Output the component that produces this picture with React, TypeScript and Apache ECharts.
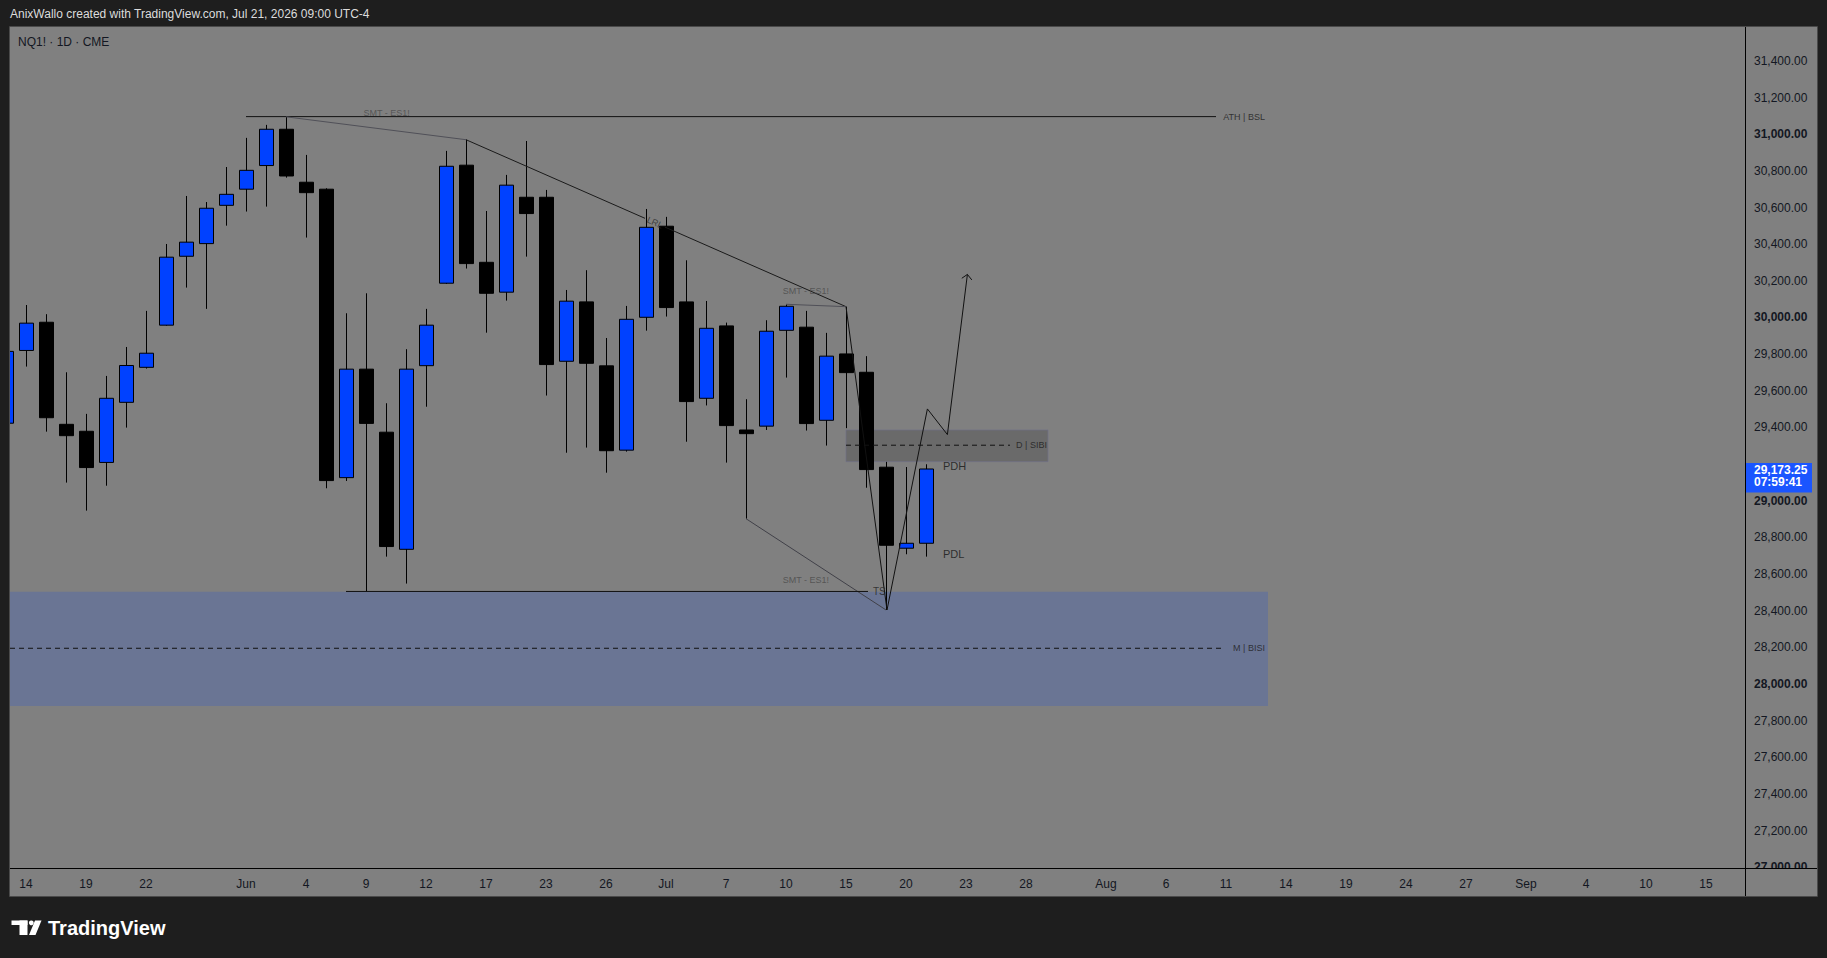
import React, { useEffect, useRef } from 'react';
import * as echarts from 'echarts';

const FONT = "'Liberation Sans', Arial, Helvetica, sans-serif";

// trading-day index axis: May 14 = 0, one unit per session
const firstCandleIndex = -1;
const candleDates = [
  'May 13', 'May 14', 'May 15', 'May 18', 'May 19', 'May 20', 'May 21', 'May 22', 'May 26', 'May 27', 'May 28', 'May 29',
  'Jun 1', 'Jun 2', 'Jun 3', 'Jun 4', 'Jun 5', 'Jun 8', 'Jun 9', 'Jun 10', 'Jun 11', 'Jun 12', 'Jun 15', 'Jun 16', 'Jun 17',
  'Jun 18', 'Jun 22', 'Jun 23', 'Jun 24', 'Jun 25', 'Jun 26', 'Jun 29', 'Jun 30',
  'Jul 1', 'Jul 2', 'Jul 6', 'Jul 7', 'Jul 8', 'Jul 9', 'Jul 10', 'Jul 13', 'Jul 14', 'Jul 15', 'Jul 16', 'Jul 17', 'Jul 20', 'Jul 21',
];
const openP = [
  29423, 29820, 29974, 29417, 29379, 29209, 29537, 29728, 29958, 30334, 30403, 30612,
  30700, 30829, 31027, 30738, 30700, 29126, 29718, 29374, 28735, 29737, 30187, 30831, 30301,
  30138, 30656, 30656, 29761, 30085, 29736, 29276, 30001,
  30498, 30085, 29559, 29954, 29386, 29407, 29930, 29947, 29439, 29801, 29701, 29183, 28741, 28768,
];
const closeP = [
  29815, 29969, 29453, 29355, 29181, 29559, 29738, 29805, 30329, 30411, 30596, 30672,
  30803, 31027, 30772, 30681, 29110, 29718, 29422, 28750, 29718, 29958, 30825, 30294, 30132,
  30722, 30567, 29743, 30089, 29750, 29273, 29990, 30492,
  30054, 29541, 29941, 29410, 29366, 29925, 30061, 29421, 29789, 29699, 29170, 28757, 28768, 29173.25,
];
const lowP = [
  29397, 29732, 29377, 29099, 28946, 29082, 29399, 29721, 29955, 30163, 30047, 30501,
  30578, 30605, 30763, 30436, 29068, 29108, 28505, 28695, 28548, 29513, 30183, 30267, 29917,
  30092, 30332, 29574, 29262, 29290, 29153, 29268, 29928,
  30005, 29322, 29520, 29208, 28902, 29386, 29672, 29383, 29301, 29396, 29071, 28404, 28708, 28695,
];
const highP = [
  29850, 30068, 30018, 29701, 29474, 29681, 29839, 30036, 30401, 30663, 30630, 30821,
  30980, 31051, 31095, 30887, 30705, 30023, 30132, 29532, 29827, 30047, 30909, 30970, 30581,
  30778, 30963, 30696, 30150, 30258, 29888, 30063, 30592,
  30549, 30312, 30090, 29972, 29554, 29985, 30072, 30036, 29916, 30059, 29789, 29212, 29184, 29199,
];
const countdown = '07:59:41';

const tickIdx = [0, 3, 6, 11, 14, 17, 20, 23, 26, 29, 32, 35, 38, 41, 44, 47, 50, 54, 57, 60, 63, 66, 69, 72, 75, 78, 81, 84];
const tickLabels = ['14', '19', '22', 'Jun', '4', '9', '12', '17', '23', '26', 'Jul', '7', '10', '15', '20', '23', '28', 'Aug', '6', '11', '14', '19', '24', '27', 'Sep', '4', '10', '15'];
const priceTicks = [27000, 27200, 27400, 27600, 27800, 28000, 28200, 28400, 28600, 28800, 29000, 29400, 29600, 29800, 30000, 30200, 30400, 30600, 30800, 31000, 31200, 31400];

// drawings (x = trading-day index, y = price)
const athLine = [[11, 31096], [59.5, 31096]];
const smtTopLine = [[13, 31095], [22, 30970]];
const trendLineA = [[22, 30970], [30.95, 30541]];
const trendLineB = [[31.95, 30493], [41, 30059]];
const smtMidLine = [[38, 30072], [41, 30059]];
const smtLowLine = [[36, 28902], [43, 28404]];
const tsLine = [[16, 28505], [42.1, 28505]];
const projectionPath = [[41, 30059], [43.05, 28404], [45.07, 29501], [46.07, 29361], [47.07, 30235]];
const projectionArrow = [[46.79, 30214], [47.07, 30235], [47.29, 30205]];
const sibiMidLine = [[41, 29303], [49.2, 29303]];
const bisiMidLine = [[-0.8, 28195], [59.95, 28195]];
const sibiZone = [41, 29386, 51.1, 29213];
const bisiZone = [-0.8, 28504, 62.1, 27880];

const noteTexts = ['ATH | BSL', 'D | SIBI', 'M | BISI', 'SMT - ES1!', 'SMT - ES1!', 'SMT - ES1!', 'TS', 'PDH', 'PDL', 'LRL'];
const noteX = [61.95, 51.05, 61.95, 18.03, 39.0, 39.0, 42.35, 45.85, 45.85, 31.45];
const noteY = [31096, 29303, 28195, 31114, 30146, 28568, 28505, 29190, 28708, 30517];

const BLUE = '#0041ff';

function fmtPrice(v: number): string {
  const s = v.toFixed(2);
  const parts = s.split('.');
  return parts[0].replace(/\B(?=(\d{3})+(?!\d))/g, ',') + '.' + parts[1];
}

export default function App() {
  const ref = useRef<HTMLDivElement>(null);

  useEffect(() => {
    document.body.style.margin = '0';
    const chart = echarts.init(ref.current as HTMLDivElement, null, { renderer: 'svg' });

    const candleData = openP.map((o, i) => [i + firstCandleIndex, o, closeP[i], lowP[i], highP[i]]);

    const lineSeries = (data: number[][], color: string, dashed = false) => ({
      type: 'line',
      data,
      symbol: 'none',
      silent: true,
      z: 4,
      clip: true,
      lineStyle: { color, width: 1, type: dashed ? [5, 4] : 'solid' },
    });

    const noteStyles: any[] = [
      { align: 'right', fontSize: 9, color: '#1a1a1a' },
      { align: 'right', fontSize: 9, color: '#1a1a1a' },
      { align: 'right', fontSize: 9, color: '#1a1a1a' },
      { align: 'center', fontSize: 9, color: '#4a4a4a' },
      { align: 'center', fontSize: 9, color: '#4a4a4a' },
      { align: 'center', fontSize: 9, color: '#4a4a4a' },
      { align: 'left', fontSize: 10, color: '#222222' },
      { align: 'left', fontSize: 11, color: '#151515' },
      { align: 'left', fontSize: 11, color: '#151515' },
      { align: 'center', fontSize: 9, color: '#2a2a2a', rotate: -24 },
    ];

    const noteData = noteTexts.map((t, i) => ({
      value: [noteX[i], noteY[i]],
      name: t,
      label: {
        show: true,
        formatter: t,
        position: [0, 0],
        verticalAlign: 'middle',
        fontFamily: FONT,
        ...noteStyles[i],
      },
    }));

    const zoneFills = ['#6a6a6a', '#6a7594'];
    const zoneStrokes = ['rgba(112,112,135,0.7)', 'rgba(0,0,0,0)'];

    const option: any = {
      animation: false,
      backgroundColor: '#808080',
      grid: { left: 10, right: 82, top: 27, bottom: 90 },
      xAxis: {
        type: 'value',
        min: -0.8,
        max: 85.95,
        axisLine: { show: false },
        axisTick: { show: false },
        splitLine: { show: false },
        axisLabel: {
          customValues: tickIdx,
          formatter: (v: number) => {
            const k = tickIdx.indexOf(Math.round(v));
            return k >= 0 ? tickLabels[k] : '';
          },
          color: '#131722',
          fontSize: 12,
          fontFamily: FONT,
          margin: 10,
        },
      },
      yAxis: {
        type: 'value',
        position: 'right',
        min: 26996,
        max: 31585,
        axisLine: { show: false },
        axisTick: { show: false },
        splitLine: { show: false },
        axisLabel: {
          customValues: priceTicks,
          formatter: (v: number) => (v % 1000 === 0 ? '{b|' + fmtPrice(v) + '}' : fmtPrice(v)),
          color: '#131722',
          fontSize: 12,
          fontFamily: FONT,
          margin: 9,
          rich: { b: { fontWeight: 'bold', color: '#131722', fontSize: 12, fontFamily: FONT } },
        },
      },
      series: [
        {
          type: 'custom',
          name: 'zones',
          silent: true,
          clip: true,
          z: 1,
          data: [sibiZone, bisiZone],
          encode: { x: [0, 2], y: [1, 3] },
          renderItem: (params: any, api: any) => {
            const a = api.coord([api.value(0), api.value(1)]);
            const b = api.coord([api.value(2), api.value(3)]);
            return {
              type: 'rect',
              shape: { x: a[0], y: a[1], width: b[0] - a[0], height: b[1] - a[1] },
              style: { fill: zoneFills[params.dataIndex], stroke: zoneStrokes[params.dataIndex], lineWidth: 1 },
            };
          },
        },
        {
          type: 'custom',
          name: 'NQ1!',
          silent: true,
          clip: true,
          z: 3,
          data: candleData,
          encode: { x: 0, y: [1, 2, 3, 4] },
          renderItem: (params: any, api: any) => {
            const x = api.value(0);
            const o = api.value(1);
            const c = api.value(2);
            const pO = api.coord([x, o]);
            const pC = api.coord([x, c]);
            const pL = api.coord([x, api.value(3)]);
            const pH = api.coord([x, api.value(4)]);
            const cx = Math.round(pO[0]) + 0.5;
            const top = Math.min(pO[1], pC[1]);
            const bot = Math.max(pO[1], pC[1]);
            const up = c >= o;
            return {
              type: 'group',
              children: [
                { type: 'line', shape: { x1: cx, y1: pH[1], x2: cx, y2: pL[1] }, style: { stroke: '#000', lineWidth: 1 } },
                {
                  type: 'rect',
                  shape: { x: cx - 7, y: top, width: 14, height: Math.max(bot - top, 2) },
                  style: { fill: up ? BLUE : '#000', stroke: '#000', lineWidth: 1 },
                },
              ],
            };
          },
        },
        lineSeries(athLine, '#111111'),
        lineSeries(smtTopLine, '#505058'),
        lineSeries(trendLineA, '#1a1a1a'),
        lineSeries(trendLineB, '#1a1a1a'),
        lineSeries(smtMidLine, '#505058'),
        lineSeries(smtLowLine, '#404048'),
        lineSeries(tsLine, '#111111'),
        lineSeries(projectionPath, '#111111'),
        lineSeries(projectionArrow, '#111111'),
        lineSeries(sibiMidLine, '#111111', true),
        lineSeries(bisiMidLine, '#111111', true),
        {
          type: 'scatter',
          name: 'notes',
          silent: true,
          symbol: 'circle',
          symbolSize: 0.1,
          itemStyle: { color: 'rgba(0,0,0,0)' },
          z: 5,
          data: noteData,
        },
      ],
      graphic: {
        elements: [
          { type: 'rect', z: 20, silent: true, shape: { x: 0, y: 0, width: 1827, height: 27 }, style: { fill: '#1e1e1e' } },
          { type: 'rect', z: 20, silent: true, shape: { x: 0, y: 896, width: 1827, height: 62 }, style: { fill: '#1e1e1e' } },
          { type: 'rect', z: 20, silent: true, shape: { x: 0, y: 0, width: 10, height: 958 }, style: { fill: '#1e1e1e' } },
          { type: 'rect', z: 20, silent: true, shape: { x: 1817, y: 0, width: 10, height: 958 }, style: { fill: '#1e1e1e' } },
          { type: 'rect', z: 20, silent: true, shape: { x: 1746, y: 869, width: 71, height: 27 }, style: { fill: '#808080' } },
          { type: 'rect', z: 21, silent: true, shape: { x: 9.5, y: 26.5, width: 1808, height: 870 }, style: { fill: 'none', stroke: '#4a4a4a', lineWidth: 1 } },
          { type: 'line', z: 21, silent: true, shape: { x1: 1745.5, y1: 27, x2: 1745.5, y2: 896 }, style: { stroke: '#000', lineWidth: 1 } },
          { type: 'line', z: 21, silent: true, shape: { x1: 10, y1: 868.5, x2: 1817, y2: 868.5 }, style: { stroke: '#000', lineWidth: 1 } },
          {
            type: 'text', z: 22, silent: true, x: 10, y: 14,
            style: { text: 'AnixWallo created with TradingView.com, Jul 21, 2026 09:00 UTC-4', fill: '#dcdcdc', fontSize: 12, fontFamily: FONT, verticalAlign: 'middle' },
          },
          {
            type: 'text', z: 22, silent: true, x: 18, y: 42,
            style: { text: 'NQ1! · 1D · CME', fill: '#131722', fontSize: 12, fontFamily: FONT, verticalAlign: 'middle' },
          },
          { type: 'rect', z: 22, silent: true, shape: { x: 11.5, y: 920.5, width: 16, height: 4.5 }, style: { fill: '#ffffff' } },
          { type: 'rect', z: 22, silent: true, shape: { x: 19.5, y: 920.5, width: 8, height: 14.5 }, style: { fill: '#ffffff' } },
          { type: 'circle', z: 22, silent: true, shape: { cx: 31.3, cy: 922.8, r: 2.4 }, style: { fill: '#ffffff' } },
          { type: 'polygon', z: 22, silent: true, shape: { points: [[35, 920.5], [41.5, 920.5], [35.5, 935], [29, 935]] }, style: { fill: '#ffffff' } },
          {
            type: 'text', z: 22, silent: true, x: 48, y: 928,
            style: { text: 'TradingView', fill: '#ffffff', fontSize: 20, fontWeight: 'bold', fontFamily: FONT, verticalAlign: 'middle' },
          },
        ],
      },
    };

    chart.setOption(option);

    const lastClose = closeP[closeP.length - 1];
    const yC = chart.convertToPixel({ yAxisIndex: 0 }, lastClose) as number;
    chart.setOption({
      graphic: {
        elements: [
          { id: 'tagBox', type: 'rect', z: 30, silent: true, shape: { x: 1746, y: yC - 6, width: 66, height: 29.5 }, style: { fill: '#1a55ff' } },
          {
            id: 'tagPrice', type: 'text', z: 31, silent: true, x: 1754, y: yC + 1,
            style: { text: fmtPrice(lastClose), fill: '#ffffff', fontSize: 12, fontWeight: 'bold', fontFamily: FONT, verticalAlign: 'middle' },
          },
          {
            id: 'tagTime', type: 'text', z: 31, silent: true, x: 1754, y: yC + 13.5,
            style: { text: countdown, fill: '#ffffff', fontSize: 12, fontWeight: 'bold', fontFamily: FONT, verticalAlign: 'middle' },
          },
        ],
      },
    });

    return () => {
      chart.dispose();
    };
  }, []);

  return <div ref={ref} style={{ position: 'fixed', left: 0, top: 0, width: 1827, height: 958 }} />;
}
